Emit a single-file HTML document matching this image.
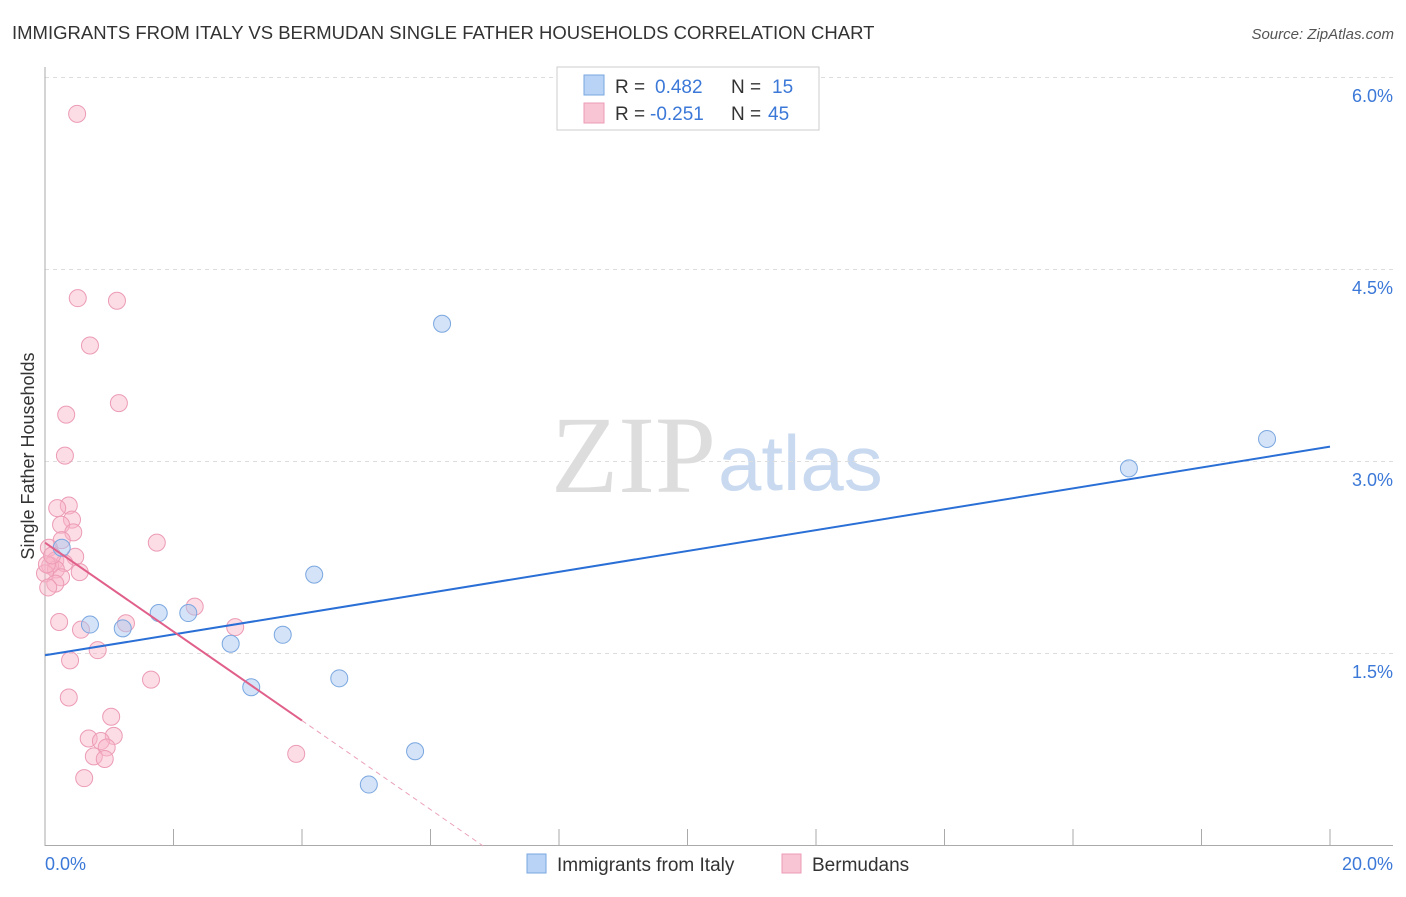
<!DOCTYPE html>
<html><head><meta charset="utf-8"><style>
body{margin:0;background:#fff;font-family:"Liberation Sans",sans-serif}
svg text{font-family:"Liberation Sans",sans-serif}
</style></head><body>
<svg id="c" width="1406" height="892">
<text x="12" y="39" font-size="18.5" fill="#333">IMMIGRANTS FROM ITALY VS BERMUDAN SINGLE FATHER HOUSEHOLDS CORRELATION CHART</text>
<text x="1394" y="39" font-size="15" fill="#555" text-anchor="end" font-style="italic">Source: ZipAtlas.com</text>
<text x="716" y="492" font-size="110" fill="#ddd" text-anchor="end" style="font-family:'Liberation Serif',serif">ZIP</text>
<text x="718" y="490" font-size="78" fill="#c9d9f0">atlas</text>
<text transform="translate(34,456) rotate(-90)" font-size="18" fill="#333" text-anchor="middle">Single Father Households</text>
<g id="grid"></g><g id="marks"></g>
<g>
<rect x="557" y="67" width="262" height="63" fill="#fff" stroke="#ccc"/>
<rect x="584" y="75" width="20" height="20" fill="#b8d3f5" stroke="#7aa7e0"/>
<rect x="584" y="103" width="20" height="20" fill="#f8c5d5" stroke="#ec9bb5"/>
<text x="615" y="93" font-size="19" fill="#333">R = <tspan x="655" fill="#3b78d8">0.482</tspan><tspan x="731">N = </tspan><tspan x="772" fill="#3b78d8">15</tspan></text>
<text x="615" y="120" font-size="19" fill="#333">R = <tspan x="650" fill="#3b78d8">-0.251</tspan><tspan x="731">N = </tspan><tspan x="768" fill="#3b78d8">45</tspan></text>
</g>
<g>
<rect x="527" y="854" width="19" height="19" fill="#b8d3f5" stroke="#7aa7e0"/>
<text x="557" y="871" font-size="19" fill="#333">Immigrants from Italy</text>
<rect x="782" y="854" width="19" height="19" fill="#f8c5d5" stroke="#ec9bb5"/>
<text x="812" y="871" font-size="19" fill="#333">Bermudans</text>
</g>
</svg>
<script>
const yTicks=[1.5,3.0,4.5,6.0];
const yTickLabels=["1.5%","3.0%","4.5%","6.0%"];
const xTickVals=[0,2,4,6,8,10,12,14,16,18,20];
const italyX=[0.70,1.21,1.77,2.23,2.89,3.21,3.70,4.19,4.58,5.04,5.76,6.18,16.87,19.02,0.26];
const italyY=[1.73,1.70,1.82,1.82,1.58,1.24,1.65,2.12,1.31,0.48,0.74,4.08,2.95,3.18,2.33];
const bermX=[0.50,0.51,1.12,0.70,0.33,1.15,0.31,0.37,0.19,0.42,0.25,0.44,0.26,1.74,0.06,0.47,0.16,0.30,0.08,0.17,0.54,0.25,0.00,0.16,0.05,2.33,0.22,1.26,0.56,2.96,0.82,0.39,1.65,0.37,1.03,0.68,1.07,0.87,0.96,0.76,0.93,3.91,0.61,0.03,0.11];
const bermY=[5.72,4.28,4.26,3.91,3.37,3.46,3.05,2.66,2.64,2.55,2.51,2.45,2.39,2.37,2.33,2.26,2.23,2.21,2.19,2.16,2.14,2.10,2.13,2.05,2.02,1.87,1.75,1.74,1.69,1.71,1.53,1.45,1.30,1.16,1.01,0.84,0.86,0.82,0.77,0.70,0.68,0.72,0.53,2.20,2.27];
const italyTrend=[1.49,3.12];
const bermTrend=[2.37,-0.3475];
const X=v=>45+v*1285/20, Y=v=>846-v*128;
const NS="http://www.w3.org/2000/svg";
const grid=document.getElementById('grid'), marks=document.getElementById('marks');
function mk(p,tag,a){const e=document.createElementNS(NS,tag);for(const k in a)e.setAttribute(k,a[k]);p.appendChild(e);return e;}
yTicks.forEach((t,i)=>{
 const l=mk(grid,'line',{x1:45,x2:1393,y1:Y(t)-0.5,y2:Y(t)-0.5,stroke:'#ddd','stroke-dasharray':'4,4'});
 
 
 const tx=mk(grid,'text',{x:1393,y:Y(t)+24,'font-size':18,fill:'#3b78d8','text-anchor':'end'});
 tx.textContent=yTickLabels[i];
 
 
});
let ax=mk(grid,'line',{x1:45,x2:45,y1:67,y2:846,stroke:'#aaa'});


ax=mk(grid,'line',{x1:45,x2:1393,y1:845.5,y2:845.5,stroke:'#aaa'});


xTickVals.forEach(t=>{const l=mk(grid,'line',{x1:X(t),x2:X(t),y1:829,y2:846,stroke:'#aaa'});
 
 });
let t0=mk(grid,'text',{x:45,y:870,'font-size':18,fill:'#3b78d8'});t0.textContent='0.0%';


let t1=mk(grid,'text',{x:1393,y:870,'font-size':18,fill:'#3b78d8','text-anchor':'end'});t1.textContent='20.0%';


bermX.forEach((x,i)=>{const c=mk(marks,'circle',{cx:X(x),cy:Y(bermY[i]),r:8.5,fill:'rgba(248,180,200,0.45)',stroke:'#ec9bb5','stroke-width':1});
 
 });
italyX.forEach((x,i)=>{const c=mk(marks,'circle',{cx:X(x),cy:Y(italyY[i]),r:8.5,fill:'rgba(170,200,240,0.5)',stroke:'#7aa7e0','stroke-width':1});
 
 });
let tl=mk(marks,'line',{x1:X(0),y1:Y(italyTrend[0]),x2:X(20),y2:Y(italyTrend[1]),stroke:'#2a6fd6','stroke-width':2});


const bEnd=4.0, bZero=-bermTrend[0]/bermTrend[1];
tl=mk(marks,'line',{x1:X(0),y1:Y(bermTrend[0]),x2:X(bEnd),y2:Y(bermTrend[0]+bermTrend[1]*bEnd),stroke:'#e0608a','stroke-width':2});


tl=mk(marks,'line',{x1:X(bEnd),y1:Y(bermTrend[0]+bermTrend[1]*bEnd),x2:X(bZero),y2:Y(0),stroke:'#eaa0b8','stroke-width':1,'stroke-dasharray':'5,4'});


</script>
</body></html>
